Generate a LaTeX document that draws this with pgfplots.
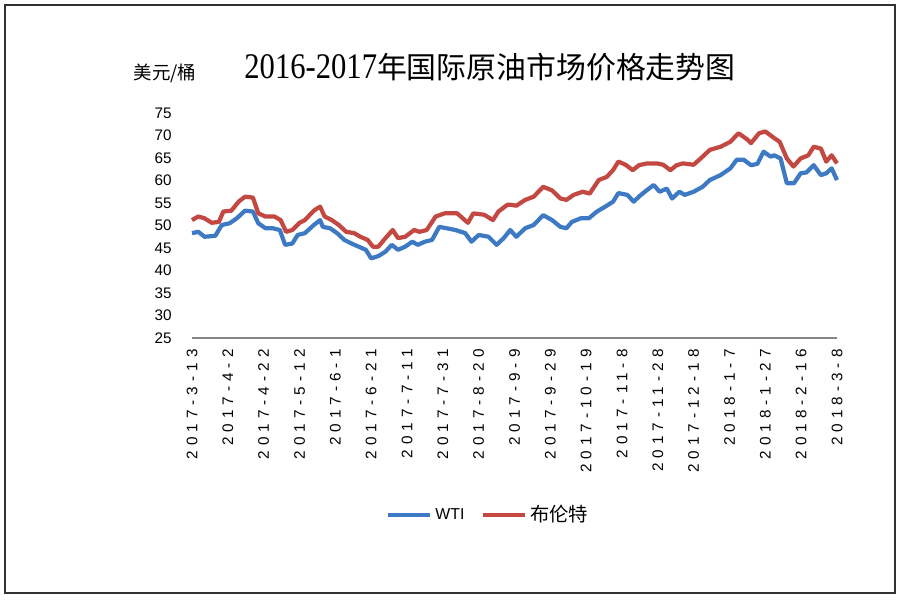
\documentclass[border=0pt]{standalone}
\usepackage{fontspec}
\usepackage{pgfplots}
\pgfplotsset{compat=1.18}
\setmainfont{Liberation Sans}
\newfontfamily\cjk{Noto Sans CJK SC}
\newfontfamily\titlenum[FakeStretch=0.85]{Liberation Serif}
\newfontfamily\tickfont[LetterSpace=33]{Liberation Sans}
\definecolor{wti}{RGB}{62,121,196}
\definecolor{brent}{RGB}{195,72,66}
\begin{document}
\begin{tikzpicture}
\useasboundingbox (0,0) rectangle (18cm,12cm);
\draw[color={rgb,255:red,50;green,50;blue,50}, line width=0.045cm] (0.1cm,0.14cm) rectangle (17.9cm,11.9cm);
\node[anchor=center] at (9.8cm,10.66cm) {\fontsize{17pt}{20pt}\selectfont{\titlenum\fontsize{20.5pt}{20pt}\selectfont 2016-2017}{\cjk 年国际原油市场价格走势图}};
\node[anchor=center] at (3.3cm,10.54cm) {\cjk\fontsize{10.5pt}{12pt}\selectfont 美元/桶};
\begin{axis}[
  at={(3.84cm,5.24cm)}, anchor=south west,
  scale only axis, width=12.9cm, height=4.5cm,
  xmin=0, xmax=360, ymin=25, ymax=75,
  enlargelimits=false, clip=false,
  separate axis lines,
  axis x line*=bottom, axis y line*=left,
  x axis line style={draw={rgb,255:red,134;green,134;blue,134}, line width=0.8pt},
  y axis line style={draw=none},
  major tick length=0pt,
  ytick={25,30,...,75},
  xtick={0,20,...,360},
  xticklabels={2017-3-13,2017-4-2,2017-4-22,2017-5-12,2017-6-1,2017-6-21,2017-7-11,2017-7-31,2017-8-20,2017-9-9,2017-9-29,2017-10-19,2017-11-8,2017-11-28,2017-12-18,2018-1-7,2018-1-27,2018-2-16,2018-3-8},
  xticklabel style={rotate=90, anchor=east, inner sep=0pt, xshift=-0.22cm, font=\tickfont\fontsize{8.7pt}{10pt}\selectfont},
  yticklabel style={anchor=east, inner sep=0pt, xshift=-0.4cm, font=\fontsize{8.7pt}{10pt}\selectfont},
  /pgf/number format/assume math mode=true,
  legend columns=2,
  legend style={at={(0.46,-0.787)}, anchor=center, draw=none, fill=none,
    font=\fontsize{9pt}{11pt}\selectfont, column sep=0.25cm,
    /tikz/every odd column/.style={column sep=0pt}},
  legend image code/.code={\draw[#1] (0cm,0cm) -- (0.84cm,0cm);},
]
\addplot[wti, line width=2.4pt, line join=round] coordinates {
(0,48.3)(3.5,48.6)(7,47.5)(13,47.7)(16.6,50.1)(21,50.5)(25,51.6)(29.6,53.3)(34,53.1)(37,50.5)(41,49.4)(45,49.4)(49,49.0)(52,45.7)(56,46.0)(59,47.9)(63,48.3)(68,50.1)(71.5,51.2)(73,49.7)(77,49.4)(81,48.3)(85,46.8)(89,46.0)(93,45.3)(97,44.6)(100,42.7)(104,43.2)(108,44.2)(111.5,45.7)(115,44.6)(119,45.3)(123,46.4)(126,45.7)(130,46.4)(134,46.8)(138,49.7)(142,49.4)(147,49.0)(152.5,48.3)(156,46.4)(160,47.9)(165.5,47.5)(170,45.7)(174,47.2)(177.6,49.0)(181,47.5)(186,49.4)(190.7,50.1)(196,52.3)(201,51.2)(205.6,49.7)(209,49.4)(212,50.8)(217,51.6)(221.5,51.6)(226,53.1)(230.7,54.2)(235,55.3)(238,57.2)(243,56.8)(246.5,55.3)(250,56.6)(254,57.9)(257.7,59.0)(261,57.5)(265,58.2)(268,56.0)(272,57.5)(275,56.8)(280,57.5)(285,58.6)(289,60.1)(295,61.2)(300.5,62.7)(304,64.6)(308,64.6)(312,63.4)(315.6,63.7)(319,66.4)(323,65.3)(325,65.6)(328.5,64.9)(332,59.4)(336,59.4)(339.7,61.6)(343,61.8)(347,63.4)(351,61.2)(354,61.6)(357,62.7)(360,60.1)
};
\addlegendentry{WTI}
\addplot[brent, line width=2.4pt, line join=round] coordinates {
(0,51.2)(3.5,52.0)(7,51.6)(11,50.6)(15,50.8)(17.5,53.1)(22,53.3)(26,55.3)(29.6,56.4)(34,56.2)(37,52.7)(41,52.0)(46,52.0)(49.5,51.2)(52.5,48.6)(56,49.0)(60,50.6)(63,51.2)(68,53.3)(71.5,54.2)(74,52.0)(78,51.2)(82,50.1)(86,48.6)(90.5,48.3)(94,47.5)(98,46.8)(101,45.3)(104,45.3)(108,47.2)(112,49.0)(115,47.2)(119,47.5)(124,49.0)(127,48.6)(131,49.0)(136,52.0)(141,52.7)(148,52.7)(154,50.6)(157,52.7)(163,52.4)(168,51.2)(171,53.1)(176,54.6)(178,54.6)(181,54.4)(186,55.7)(190.7,56.4)(196,58.6)(201,57.8)(205.6,56.0)(209,55.7)(213,56.8)(218,57.5)(222,57.1)(227,60.1)(231.5,60.8)(235,62.3)(238,64.2)(242,63.5)(246,62.3)(249.5,63.4)(254,63.8)(259.5,63.8)(263,63.5)(267,62.3)(270.5,63.4)(274,63.8)(280,63.5)(285,65.3)(289,66.8)(295,67.5)(300.5,68.6)(305,70.5)(310,69.1)(312,68.3)(316.5,70.5)(320,70.9)(325,69.4)(328,68.6)(332,64.9)(335.7,63.1)(339.7,64.9)(344,65.6)(347,67.5)(351,67.1)(354,64.2)(357,65.6)(360,63.8)
};
\addlegendentry{\cjk\fontsize{11pt}{12pt}\selectfont 布伦特}
\end{axis}
\end{tikzpicture}
\end{document}
